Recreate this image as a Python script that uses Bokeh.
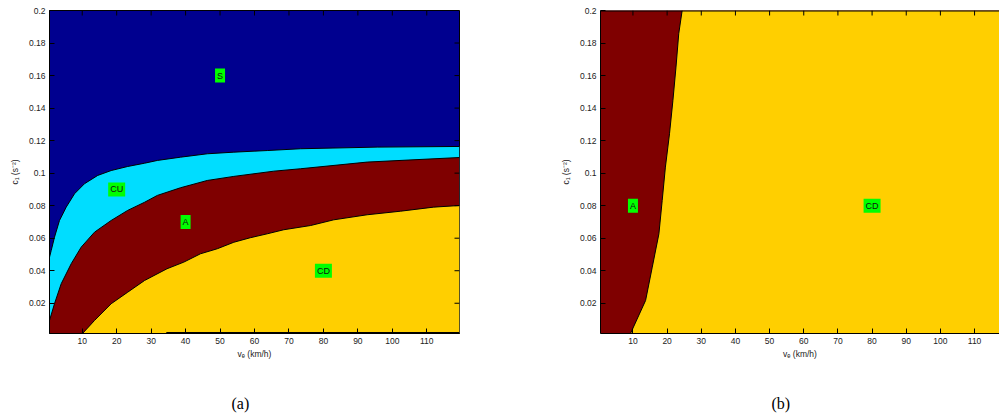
import math
from bokeh.plotting import figure
from bokeh.models import Range1d, FixedTicker
from bokeh.layouts import row
from bokeh.embed import file_html
from bokeh.resources import INLINE
from bokeh.core.properties import value

# ---- ticks ----
x_ticks = [10, 20, 30, 40, 50, 60, 70, 80, 90, 100, 110]
x_tick_labels = ["10", "20", "30", "40", "50", "60", "70", "80", "90", "100", "110"]
y_ticks = [0.02, 0.04, 0.06, 0.08, 0.1, 0.12, 0.14, 0.16, 0.18, 0.2]
y_tick_labels = ["0.02", "0.04", "0.06", "0.08", "0.1", "0.12", "0.14", "0.16", "0.18", "0.2"]

ve_min, ve_max_a, ve_max_b = 0.5, 119.5, 117.3
c_min, c_max = 0.0014, 0.2

# ---- panel (a) region boundaries ----
# S / CU boundary
su_ve = [0.5, 0.99, 1.95, 3.4, 5.35, 7.76, 10.66, 14.5, 18.4, 23.2, 28.1, 31.8, 38.5, 46.3, 54.0, 63.7, 73.4, 95.6, 119.5]
su_c = [0.0483, 0.0524, 0.0606, 0.0709, 0.0791, 0.0873, 0.0935, 0.0986, 0.1016, 0.1041, 0.1061, 0.1078, 0.1098, 0.1119, 0.1129, 0.1139, 0.1150, 0.1160, 0.1164]
# CU / A boundary
ua_ve = [0.5, 1.95, 3.9, 6.8, 9.7, 13.56, 18.4, 23.2, 28.1, 31.8, 38.5, 46.3, 54.0, 65.6, 73.4, 92.7, 119.5]
ua_c = [0.0094, 0.0197, 0.0320, 0.0443, 0.0545, 0.0637, 0.0709, 0.0771, 0.0821, 0.0863, 0.0910, 0.0955, 0.0980, 0.1012, 0.1027, 0.1068, 0.1096]
# A / CD boundary
ad_ve = [10.17, 13.56, 18.4, 23.2, 28.1, 34.6, 39.5, 44.3, 49.2, 54.0, 58.8, 63.7, 68.5, 76.3, 83.0, 92.7, 102.4, 112.0, 119.5]
ad_c = [0.0016, 0.0094, 0.0197, 0.0268, 0.0340, 0.0412, 0.0453, 0.0504, 0.0535, 0.0575, 0.0603, 0.0627, 0.0652, 0.0678, 0.0713, 0.0744, 0.0766, 0.0791, 0.0801]
# contour running along the lower edge
bottom_ve = [34.4, 119.5]

labels_a_text = ["S", "CU", "A", "CD"]
labels_a_ve = [50, 20, 40, 80]
labels_a_c = [0.16, 0.09, 0.07, 0.04]

# ---- panel (b) region boundary (A / CD) ----
b_c = [0.0016, 0.0217, 0.0422, 0.0627, 0.0832, 0.1037, 0.1242, 0.1447, 0.1652, 0.1857, 0.2]
b_ve = [9.33, 13.7, 15.65, 17.6, 18.56, 19.5, 20.7, 21.7, 22.6, 23.4, 24.4]

labels_b_text = ["A", "CD"]
labels_b_ve = [10, 80]
labels_b_c = [0.08, 0.08]

# ---- colours ----
C_S = "#00008F"
C_CU = "#00DDFF"
C_A = "#7F0000"
C_CD = "#FFCF00"
C_LAB = "#00FF00"

FONT = "Liberation Sans"
TICK_SIZE = "8.5px"
H = 416


def style_axis(ax):
    ax.axis_line_color = "black"
    ax.axis_line_width = 1
    ax.major_tick_line_color = "black"
    ax.major_tick_in = 5
    ax.major_tick_out = 0
    ax.minor_tick_line_color = None
    ax.major_label_text_font = FONT
    ax.major_label_text_color = "#222222"
    ax.major_label_text_font_size = TICK_SIZE
    ax.major_label_standoff = 4
    ax.axis_label_text_font = FONT
    ax.axis_label_text_font_size = "8.5px"
    ax.axis_label_text_font_style = "normal"
    ax.axis_label_text_color = "#222222"


def make_fig(width, x_end, mb_left, mb_right, bg, outline, caption, cap_offset):
    p = figure(width=width, height=H,
               x_range=Range1d(ve_min, x_end), y_range=Range1d(c_min, c_max),
               output_backend="svg", toolbar_location=None,
               min_border_left=mb_left, min_border_right=mb_right,
               min_border_top=10, min_border_bottom=83,
               title="\n" + caption, title_location="below",
               background_fill_color=bg, border_fill_color="white")
    p.xgrid.grid_line_color = None
    p.ygrid.grid_line_color = None
    p.outline_line_color = "black" if outline else None
    p.outline_line_width = 1

    p.xaxis.ticker = FixedTicker(ticks=x_ticks)
    p.yaxis.ticker = FixedTicker(ticks=y_ticks)
    p.xaxis.major_label_overrides = dict(zip(x_ticks, x_tick_labels))
    p.yaxis.major_label_overrides = dict(zip(y_ticks, y_tick_labels))
    for ax in p.xaxis + p.yaxis:
        style_axis(ax)
    p.xaxis.axis_label = "v\u2091 (km/h)"
    p.xaxis.axis_label_standoff = 2
    p.yaxis.axis_label = "c\u2081 (s\u207b\u00b2)"
    p.yaxis.axis_label_standoff = 6

    p.title.text_font = "Liberation Serif"
    p.title.text_font_size = "16px"
    p.title.text_font_style = "normal"
    p.title.text_color = "black"
    p.title.align = "left"
    p.title.vertical_align = "bottom"
    p.title.offset = cap_offset
    p.title.standoff = 2
    p.title.text_line_height = 1.85
    return p


# ---------- panel (a) ----------
pa = make_fig(557, ve_max_a, 49, 98, C_S, True, "(a)", 182)
pa.varea(x=su_ve, y1=0.0, y2=su_c, fill_color=C_CU)
pa.varea(x=ua_ve, y1=0.0, y2=ua_c, fill_color=C_A)
pa.varea(x=ad_ve, y1=0.0, y2=ad_c, fill_color=C_CD)
pa.line(x=su_ve, y=su_c, line_color="black", line_width=1)
pa.line(x=ua_ve, y=ua_c, line_color="black", line_width=1)
pa.line(x=ad_ve, y=ad_c, line_color="black", line_width=1)
pa.line(x=bottom_ve, y=[c_min, c_min], line_color="black", line_width=3)
# inward ticks on top and right edges
pa.ray(x=x_ticks, y=c_max, length=5, length_units="screen", angle=-math.pi / 2,
       line_color="black", line_width=1)
pa.ray(x=ve_max_a, y=y_ticks, length=5, length_units="screen", angle=math.pi,
       line_color="black", line_width=1)
pa.text(x=labels_a_ve, y=labels_a_c, text=labels_a_text,
        text_align="center", text_baseline="middle",
        text_font=value(FONT), text_font_size="9px", text_color="#111111",
        background_fill_color=C_LAB, padding=2)

# ---------- panel (b) ----------
pb = make_fig(442, ve_max_b, 41, 0, C_A, False, "(b)", 171)
pb.harea(y=b_c, x1=b_ve, x2=130.0, fill_color=C_CD)
pb.line(x=b_ve, y=b_c, line_color="black", line_width=1)
pb.line(x=[ve_min, ve_max_b], y=[c_max, c_max], line_color="black", line_width=2)
pb.ray(x=x_ticks, y=c_max, length=5, length_units="screen", angle=-math.pi / 2,
       line_color="black", line_width=1)
pb.text(x=labels_b_ve, y=labels_b_c, text=labels_b_text,
        text_align="center", text_baseline="middle",
        text_font=value(FONT), text_font_size="9px", text_color="#111111",
        background_fill_color=C_LAB, padding=2)

layout = row(pa, pb)
open("out.html", "w").write(file_html(layout, INLINE))
